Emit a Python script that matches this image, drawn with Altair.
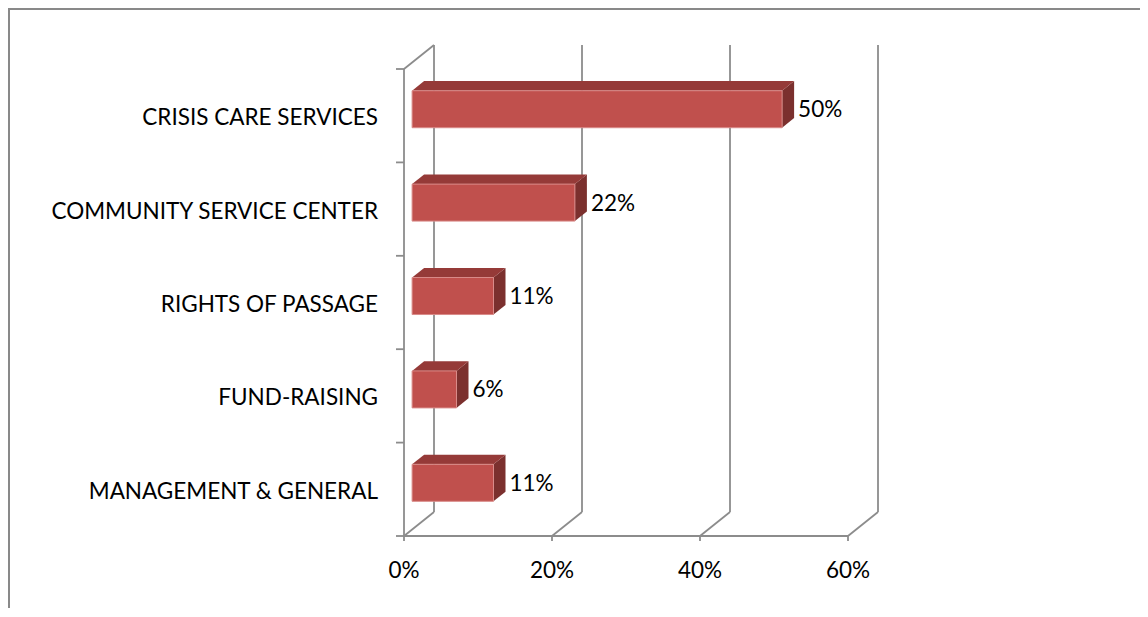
import altair as alt
import pandas as pd

# ---- data ----
categories = ["CRISIS CARE SERVICES", "COMMUNITY SERVICE CENTER", "RIGHTS OF PASSAGE",
              "FUND-RAISING", "MANAGEMENT & GENERAL"]
values = [50, 22, 11, 6, 11]
tick_values = [0, 20, 40, 60]
tick_labels = ["0%", "20%", "40%", "60%"]

# ---- geometry (scale setup) ----
W, H = 1132, 600
PX_PCT = 444 / 60.0          # pixels per percent
PX_CAT = 93.4                # pixels per category band
X0_PX, YTOP_PX = 396, 61     # plot-coords of 0% / top of category axis
xmin = -X0_PX / PX_PCT
xmax = xmin + W / PX_PCT
ymin = -0.5 - YTOP_PX / PX_CAT
ymax = ymin + H / PX_CAT
DX = 30 / PX_PCT             # depth vector in data units
DY = 24 / PX_CAT
F0, F1 = 0.27, 0.67          # bar front/back depth fractions
HALF = 18.5 / PX_CAT         # half bar thickness
N = len(categories)
ylo, yhi = -0.5, N - 0.5

xs = alt.Scale(domain=[xmin, xmax], nice=False, zero=False)
ys = alt.Scale(domain=[ymin, ymax], nice=False, zero=False, reverse=True)

FONT = "Lato"
FS = 22.5
GRID = "#8c8c8c"

# ---- wall / floor / axis segments ----
seg = []
seg.append((0, ylo, 0, yhi))
seg.append((0, ylo, DX, ylo - DY))
for t in tick_values:
    seg.append((t + DX, ylo - DY, t + DX, yhi - DY))
    seg.append((t, yhi, t + DX, yhi - DY))
    seg.append((t, yhi, t, yhi + 5 / PX_CAT))
seg.append((0, yhi, tick_values[-1], yhi))
for i in range(N + 1):
    b = -0.5 + i
    seg.append((-8 / PX_PCT, b, 0, b))
seg_df = pd.DataFrame(seg, columns=["x", "y", "x2", "y2"])

lines = alt.Chart(seg_df).mark_rule(color=GRID, strokeWidth=1.8).encode(
    x=alt.X("x:Q", scale=xs, axis=None),
    y=alt.Y("y:Q", scale=ys, axis=None),
    x2="x2:Q", y2="y2:Q")

# ---- bars ----
front_rows, top_rows, side_rows, lab_rows = [], [], [], []
for i, (c, v) in enumerate(zip(categories, values)):
    xa = F0 * DX
    xb = v + F0 * DX
    yc = i - F0 * DY
    yt, yb = yc - HALF, yc + HALF
    d = (F1 - F0) * DX
    e = (F1 - F0) * DY
    front_rows.append(dict(cat=c, x=xa, x2=xb, y=yt, y2=yb))
    top_rows += [dict(cat=c, fx=xa, fy=yt, fy2=yt),
                 dict(cat=c, fx=xa + d, fy=yt, fy2=yt - e),
                 dict(cat=c, fx=xb, fy=yt, fy2=yt - e),
                 dict(cat=c, fx=xb + d, fy=yt - e, fy2=yt - e)]
    side_rows += [dict(cat=c, fx=xb, fy=yb, fy2=yt),
                  dict(cat=c, fx=xb + d, fy=yb - e, fy2=yt - e)]
    lab_rows.append(dict(cat=c, x=xb + d, y=yc, label=f"{v}%", idx=i))


def face(rows, color):
    return alt.Chart(pd.DataFrame(rows)).mark_area(
        fill=color, fillOpacity=1, interpolate="linear").encode(
        x=alt.X("fx:Q", scale=xs, axis=None),
        y=alt.Y("fy:Q", scale=ys, axis=None, stack=None),
        y2=alt.Y2("fy2:Q"),
        detail="cat:N")


front = alt.Chart(pd.DataFrame(front_rows)).mark_rect(
    color="#C0504D", stroke="#D98B89", strokeWidth=1).encode(
    x=alt.X("x:Q", scale=xs, axis=None), x2="x2:Q",
    y=alt.Y("y:Q", scale=ys, axis=None), y2="y2:Q")

top = face(top_rows, "#953A38")
side = face(side_rows, "#7B302E")

vlabels = alt.Chart(pd.DataFrame(lab_rows)).mark_text(
    align="left", baseline="middle", dx=4, dy=1, font=FONT, fontSize=FS, color="#000").encode(
    x=alt.X("x:Q", scale=xs, axis=None),
    y=alt.Y("y:Q", scale=ys, axis=None), text="label:N")

# ---- category labels ----
cat_df = pd.DataFrame({"cat": categories, "idx": list(range(N))})
clabels = alt.Chart(cat_df).mark_text(
    align="right", baseline="middle", dy=2.5, font=FONT, fontSize=FS, color="#000").encode(
    x=alt.value(370),
    y=alt.Y("idx:Q", scale=ys, axis=None), text="cat:N")

# ---- x tick labels ----
tick_df = pd.DataFrame({"t": tick_values, "label": tick_labels})
xlabels = alt.Chart(tick_df).mark_text(
    align="center", baseline="middle", font=FONT, fontSize=FS, color="#000").encode(
    x=alt.X("t:Q", scale=xs, axis=None),
    y=alt.value(563), text="label:N")

# ---- outer frame (top & left edges) ----
frame_top = alt.Chart(tick_df).mark_rule(color="#898989", strokeWidth=2).encode(
    x=alt.value(0), x2=alt.value(W), y=alt.value(1))
frame_left = alt.Chart(tick_df).mark_rule(color="#898989", strokeWidth=2).encode(
    x=alt.value(1), y=alt.value(0), y2=alt.value(H))

chart = alt.layer(frame_top, frame_left, lines, side, top, front, vlabels, clabels, xlabels).properties(
    width=W, height=H, padding=0, autosize=alt.AutoSizeParams(type="none")
).configure_view(stroke=None)

chart.save("out.html", embed_options={"renderer": "svg", "actions": False})
